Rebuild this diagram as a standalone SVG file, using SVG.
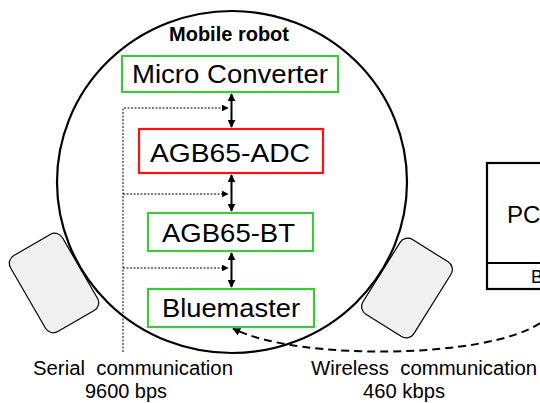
<svg xmlns="http://www.w3.org/2000/svg" width="540" height="403" viewBox="0 0 540 403">
<style>
text{font-family:"Liberation Sans",Arial,sans-serif;fill:#000}
.box{fill:#fff;stroke-width:2.2}
.g{stroke:#3ec83e}
.r{stroke:#ff1010}
.lbl{font-size:26px}
.cap{font-size:19.5px}
.wheel{fill:#f0f0f0;stroke:#000;stroke-width:1.2}
.bus{stroke:#000;stroke-width:2;fill:none;marker-start:url(#ah);marker-end:url(#ah)}
.dot{stroke:#000;stroke-width:1;stroke-dasharray:2,1.5;fill:none}
</style>
<defs>
<marker id="ah" viewBox="0 0 10 10" refX="9" refY="5" markerWidth="4" markerHeight="4" orient="auto-start-reverse" markerUnits="strokeWidth"><path d="M0,0 L10,5 L0,10 z" fill="#000"/></marker>
<marker id="ahs" viewBox="0 0 10 10" refX="9" refY="5" markerWidth="7" markerHeight="7" orient="auto" markerUnits="strokeWidth"><path d="M0,0 L10,5 L0,10 z" fill="#000"/></marker>
<marker id="ahw" viewBox="0 0 10 10" refX="9" refY="5" markerWidth="4" markerHeight="4" orient="auto" markerUnits="strokeWidth"><path d="M0,0 L10,5 L0,10 z" fill="#000"/></marker>
</defs>
<g id="wheel-left"><rect class="wheel" x="24" y="239" width="60" height="88" rx="9" transform="rotate(-30 54 283)"/></g>
<g id="wheel-right"><rect class="wheel" x="377" y="244" width="60" height="88" rx="9" transform="rotate(32 407 288)"/></g>
<g id="robot"><ellipse cx="232" cy="182" rx="175" ry="171" fill="none" stroke="#000" stroke-width="2.2"/>
<text x="229" y="41" text-anchor="middle" font-size="20" font-weight="bold">Mobile robot</text></g>
<g id="pc"><rect x="487" y="163" width="70" height="126" fill="#fff" stroke="#000" stroke-width="2.2"/>
<line x1="487" y1="263" x2="557" y2="263" stroke="#000" stroke-width="2"/>
<text x="507" y="223" font-size="24">PC</text>
<text x="531" y="283" font-size="18">B</text></g>
<g id="connectors">
<path class="bus" d="M231.5 94 V127"/>
<path class="bus" d="M231.5 175 V211"/>
<path class="bus" d="M231.5 253 V287"/>
<path class="dot" d="M123 352 V108 H228" marker-end="url(#ahs)"/>
<path class="dot" d="M123 194 H228" marker-end="url(#ahs)"/>
<path class="dot" d="M123 268 H228" marker-end="url(#ahs)"/>
<path d="M540 323 C490 358 300 362 233 328.5" fill="none" stroke="#000" stroke-width="2" stroke-dasharray="8,5" marker-end="url(#ahw)"/>
</g>
<g id="micro-converter"><rect class="box g" x="122" y="56" width="216" height="36"/><text class="lbl" x="132" y="83" textLength="196" lengthAdjust="spacingAndGlyphs">Micro Converter</text></g>
<g id="agb65-adc"><rect class="box r" x="139" y="129" width="184" height="44"/><text class="lbl" x="150" y="162" textLength="160" lengthAdjust="spacingAndGlyphs">AGB65-ADC</text></g>
<g id="agb65-bt"><rect class="box g" x="148" y="213" width="165" height="38"/><text class="lbl" x="162" y="242" textLength="133" lengthAdjust="spacingAndGlyphs">AGB65-BT</text></g>
<g id="bluemaster"><rect class="box g" x="148" y="289" width="166" height="38"/><text class="lbl" x="162" y="317" textLength="138" lengthAdjust="spacingAndGlyphs">Bluemaster</text></g>
<g id="labels">
<text class="cap" x="33" y="375" textLength="200" lengthAdjust="spacingAndGlyphs" xml:space="preserve">Serial  communication</text>
<text class="cap" x="85" y="398" textLength="82" lengthAdjust="spacingAndGlyphs">9600 bps</text>
<text class="cap" x="311" y="375" textLength="226" lengthAdjust="spacingAndGlyphs" xml:space="preserve">Wireless  communication</text>
<text class="cap" x="363" y="398" textLength="82" lengthAdjust="spacingAndGlyphs">460 kbps</text>
</g>
</svg>
